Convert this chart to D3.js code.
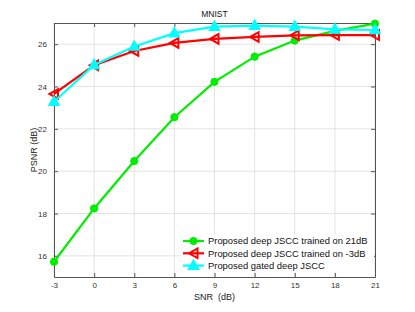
<!DOCTYPE html>
<html>
<head>
<meta charset="utf-8">
<script src="https://cdn.jsdelivr.net/npm/d3@7"></script>
<style>
  body { margin: 0; background: #fff; }
  text { font-family: "Liberation Sans", Arial, sans-serif; }
</style>
</head>
<body>
<svg id="chart" width="415" height="312"></svg>
<script>
  const snr = [-3, 0, 3, 6, 9, 12, 15, 18, 21];
  const trained21 = [15.72, 18.24, 20.48, 22.55, 24.22, 25.41, 26.17, 26.63, 26.97];
  const trainedM3 = [23.65, 25.0, 25.68, 26.06, 26.25, 26.34, 26.42, 26.43, 26.43];
  const gated = [23.28, 25.02, 25.89, 26.52, 26.83, 26.88, 26.83, 26.7, 26.67];
  const yTicks = [16, 18, 20, 22, 24, 26];
  const seriesNames = [
    "Proposed deep JSCC trained on 21dB",
    "Proposed deep JSCC trained on -3dB",
    "Proposed gated deep JSCC"
  ];

  const margin = { top: 23, right: 40, bottom: 35, left: 54 };
  const svg = d3.select("#chart"),
    width = +svg.attr("width") - margin.left - margin.right,
    height = +svg.attr("height") - margin.top - margin.bottom,
    g = svg.append("g").attr("transform", `translate(${margin.left},${margin.top})`);

  const x = d3.scaleLinear().domain([-3, 21]).range([0, width]);
  const y = d3.scaleLinear().domain([15, 27]).range([height, 0]);

  // grid
  g.append("g").selectAll("line").data(snr).enter().append("line")
    .attr("x1", d => x(d)).attr("x2", d => x(d))
    .attr("y1", 0).attr("y2", height)
    .attr("stroke", "#e3e3e3").attr("stroke-width", 1);
  g.append("g").selectAll("line").data(yTicks).enter().append("line")
    .attr("y1", d => y(d)).attr("y2", d => y(d))
    .attr("x1", 0).attr("x2", width)
    .attr("stroke", "#e3e3e3").attr("stroke-width", 1);

  // axes (matlab style: inward ticks on all four sides)
  const axColor = "#555";
  function styleAxis(sel) {
    sel.select(".domain").attr("stroke", axColor);
    sel.selectAll(".tick line").attr("stroke", axColor);
    sel.selectAll(".tick text").attr("fill", "#333").style("font-size", "8px")
      .style("font-family", "Liberation Sans, Arial, sans-serif");
  }
  const plain = d => String(d);
  g.append("g").attr("transform", `translate(0,${height})`)
    .call(d3.axisBottom(x).tickValues(snr).tickFormat(plain).tickSize(-4).tickSizeOuter(0).tickPadding(5))
    .call(styleAxis);
  g.append("g")
    .call(d3.axisTop(x).tickValues(snr).tickSize(-4).tickSizeOuter(0).tickFormat(""))
    .call(styleAxis);
  g.append("g")
    .call(d3.axisLeft(y).tickValues(yTicks).tickFormat(plain).tickSize(-4).tickSizeOuter(0).tickPadding(7))
    .call(styleAxis);
  g.append("g").attr("transform", `translate(${width},0)`)
    .call(d3.axisRight(y).tickValues(yTicks).tickSize(-4).tickSizeOuter(0).tickFormat(""))
    .call(styleAxis);

  const line = d3.line().x((d, i) => x(snr[i])).y(d => y(d));

  const colors = ["#00ee00", "#ff0000", "#00ffff"];
  const allSeries = [trained21, trainedM3, gated];

  function marker(sel, k) {
    if (k === 0) {
      sel.append("circle").attr("r", 3.6).attr("fill", colors[0]).attr("stroke", colors[0]);
    } else if (k === 1) {
      sel.append("path").attr("d", "M-4.5,0L4,-4.8L4,4.8Z")
        .attr("fill", "none").attr("stroke", colors[1]).attr("stroke-width", 2);
    } else {
      sel.append("path").attr("d", "M0,-5.5L5,3.6L-5,3.6Z")
        .attr("fill", colors[2]).attr("stroke", colors[2]).attr("stroke-width", 1.5);
    }
  }

  allSeries.forEach((vals, k) => {
    g.append("path").datum(vals)
      .attr("d", line)
      .attr("fill", "none")
      .attr("stroke", colors[k])
      .attr("stroke-width", 2.2);
    g.append("g").selectAll("g").data(vals).enter().append("g")
      .attr("transform", (d, i) => `translate(${x(snr[i])},${y(d)})`)
      .each(function () { marker(d3.select(this), k); });
  });

  // title and labels
  svg.append("text").attr("x", margin.left + width / 2).attr("y", 17)
    .attr("text-anchor", "middle").style("font-size", "8.5px").attr("fill", "#111")
    .text("MNIST");
  svg.append("text").attr("x", margin.left + width / 2).attr("y", 300)
    .attr("text-anchor", "middle").style("font-size", "9px").attr("fill", "#222")
    .attr("xml:space", "preserve")
    .text("SNR  (dB)");
  svg.append("text")
    .attr("transform", `translate(37,${margin.top + height / 2}) rotate(-90)`)
    .attr("text-anchor", "middle").style("font-size", "9px").attr("fill", "#222")
    .text("PSNR (dB)");

  // legend
  const legend = g.append("g").attr("transform", `translate(${x(-3) + 128},218)`);
  seriesNames.forEach((name, k) => {
    const row = legend.append("g").attr("transform", `translate(0,${k * 12.3})`);
    row.append("rect").attr("x", -1).attr("y", -6).attr("width", 193).attr("height", 12.3)
      .attr("fill", "#fff");
    row.append("line").attr("x1", 1).attr("x2", 22).attr("y1", 0).attr("y2", 0)
      .attr("stroke", colors[k]).attr("stroke-width", 2.2);
    marker(row.append("g").attr("transform", "translate(11.5,0)"), k);
    row.append("text").attr("x", 26).attr("y", 3.3)
      .style("font-size", "9.4px").attr("fill", "#111").text(name);
  });
</script>
</body>
</html>
